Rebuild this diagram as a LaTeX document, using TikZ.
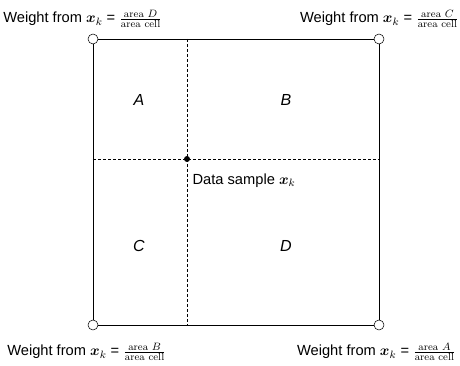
\documentclass[tikz,border=0pt]{standalone}
\usepackage{amsmath}
\usepackage{fontspec}
\setmainfont{Liberation Sans}
\newfontfamily\lmrfont{Latin Modern Roman}
\usepackage{tikz}
\usetikzlibrary{positioning}

\newcommand{\weightlabel}[1]{Weight from $\boldsymbol{x}_k$ = $\frac{\text{\lmrfont area }#1}{\text{\lmrfont area cell}}$}

\begin{document}
\begin{tikzpicture}[x=0.75pt, y=-0.75pt, font=\fontsize{11}{13}\selectfont,
    corner/.style={circle, draw, fill=white, minimum size=7.5pt, inner sep=0pt},
    sample/.style={circle, fill=black, minimum size=4.5pt, inner sep=0pt},
    region/.style={font=\fontsize{12}{14}\selectfont\itshape},
    grid line/.style={dash pattern=on 2.25pt off 1.5pt, line width=0.5pt}]
  \useasboundingbox (0,0) rectangle (460,366);
  % cell corners
  \coordinate (tl) at (93,39);
  \coordinate (tr) at (379,39);
  \coordinate (bl) at (93,325);
  \coordinate (br) at (379,325);
  % dashed lines through the sample
  \coordinate (top)   at (187,39);
  \coordinate (bot)   at (187,325);
  \coordinate (left)  at (93,159);
  \coordinate (right) at (379,159);
  \draw[grid line] (top) -- (bot);
  \draw[grid line] (left) -- (right);
  % cell boundary
  \draw[line width=0.6pt] (tl) -- (tr) -- (br) -- (bl) -- cycle;
  \node[corner] (ctl) at (tl) {};
  \node[corner] (ctr) at (tr) {};
  \node[corner] (cbl) at (bl) {};
  \node[corner] (cbr) at (br) {};
  % sample point
  \node[sample] (xk) at (187,159) {};
  \node[anchor=north west, inner sep=1pt] (xklabel) at (191,172) {Data sample $\boldsymbol{x}_k$};
  % sub-areas
  \node[region] (A) at (139,100) {A};
  \node[region] (B) at (286,100) {B};
  \node[region] (C) at (139,246) {C};
  \node[region] (D) at (286,246) {D};
  % weights
  \node[anchor=west, inner sep=0pt] (wtl) at (3,19)   {\weightlabel{D}};
  \node[anchor=east, inner sep=0pt] (wtr) at (459,19) {\weightlabel{C}};
  \node[anchor=west, inner sep=0pt] (wbl) at (7,352)  {\weightlabel{B}};
  \node[anchor=east, inner sep=0pt] (wbr) at (456,352) {\weightlabel{A}};
\end{tikzpicture}
\end{document}
